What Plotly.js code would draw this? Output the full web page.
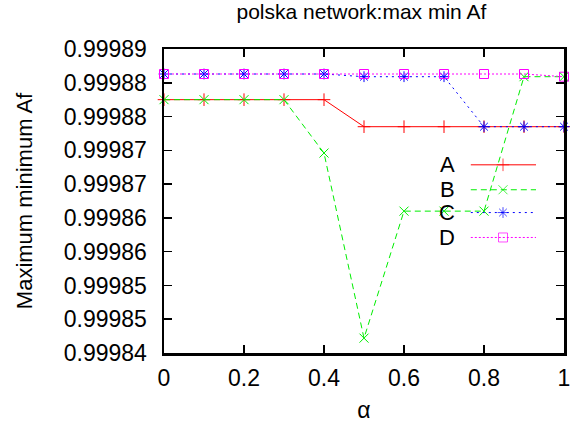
<!DOCTYPE html>
<html>
<head>
<meta charset="utf-8">
<script src="https://cdn.plot.ly/plotly-3.0.1.min.js"></script>
<style>
  html, body { margin: 0; padding: 0; background: #fff; }
  #chart { width: 570px; height: 432px; }
</style>
</head>
<body>
<div id="chart"></div>
<script>
// alpha values on the x axis
const alpha = [0, 0.1, 0.2, 0.3, 0.4, 0.5, 0.6, 0.7, 0.8, 0.9, 1.0];

// maximum minimum Af for each method
const seriesA = [0.9998775, 0.9998775, 0.9998775, 0.9998775, 0.9998775, 0.9998735, 0.9998735, 0.9998735, 0.9998735, 0.9998735, 0.9998735];
const seriesB = [0.9998775, 0.9998775, 0.9998775, 0.9998775, 0.9998696, 0.9998422, 0.9998610, 0.9998610, 0.9998610, 0.9998809, 0.9998809];
const seriesC = [0.9998813, 0.9998813, 0.9998813, 0.9998813, 0.9998813, 0.9998809, 0.9998809, 0.9998809, 0.9998735, 0.9998735, 0.9998735];
const seriesD = [0.9998813, 0.9998813, 0.9998813, 0.9998813, 0.9998813, 0.9998813, 0.9998813, 0.9998813, 0.9998813, 0.9998813, 0.9998809];

const seriesNames = ["A", "B", "C", "D"];

// axis ticks
const xTickVals = [0, 0.2, 0.4, 0.6, 0.8, 1];
const xTickText = ["0", "0.2", "0.4", "0.6", "0.8", "1"];
const yTickVals = [0.99984, 0.999845, 0.99985, 0.999855, 0.99986, 0.999865, 0.99987, 0.999875, 0.99988, 0.999885];
const yTickText = ["0.99984", "0.99985", "0.99985", "0.99986", "0.99986", "0.99987", "0.99987", "0.99988", "0.99988", "0.99989"];

const FONT = "Liberation Sans, Arial, sans-serif";

const styles = [
  { color: "#ff0000", dash: "solid",     symbol: "cross-thin-open" },
  { color: "#00ee00", dash: "6px,4px",   symbol: "x-thin-open" },
  { color: "#0000ff", dash: "2px,4px",   symbol: "asterisk-open" },
  { color: "#ff00ff", dash: "2px,2px",   symbol: "square-open" }
];
const allSeries = [seriesA, seriesB, seriesC, seriesD];

const traces = allSeries.map((ys, i) => ({
  x: alpha, y: ys, type: "scatter", mode: "lines+markers",
  name: seriesNames[i], showlegend: false, cliponaxis: false,
  line: { color: styles[i].color, width: 1, dash: styles[i].dash },
  marker: { symbol: styles[i].symbol, size: 9, color: styles[i].color,
            line: { color: styles[i].color, width: 1 } }
}));

// key drawn inside the plot area on an overlay axis spanning [0,1]
const keyX = [0.767, 0.8475, 0.93];
const keyRows = [0.619, 0.537, 0.462, 0.380];
const keyTextX = 0.73;

seriesNames.forEach((nm, i) => {
  traces.push({
    x: keyX, y: [keyRows[i], keyRows[i], keyRows[i]],
    xaxis: "x2", yaxis: "y2", type: "scatter", mode: "lines+markers",
    showlegend: false, hoverinfo: "skip",
    line: { color: styles[i].color, width: 1, dash: styles[i].dash },
    marker: { symbol: styles[i].symbol, size: [0, 9, 0], color: styles[i].color,
              line: { color: styles[i].color, width: 1 } }
  });
});

const annotations = seriesNames.map((nm, i) => ({
  xref: "x2", yref: "y2", x: keyTextX, y: keyRows[i],
  xanchor: "right", yanchor: "middle", text: nm, showarrow: false,
  font: { family: FONT, size: 22, color: "#000" }, borderpad: 0
}));

const axisCommon = {
  showgrid: false, zeroline: false, showline: true, linecolor: "#000", linewidth: 2.5,
  mirror: "ticks", ticks: "inside", ticklen: 8, tickwidth: 1.5, tickcolor: "#000",
  tickfont: { family: FONT, size: 23, color: "#000" }, ticklabeloverflow: "allow"
};

const layout = {
  width: 570, height: 432,
  margin: { l: 164, r: 6, t: 49, b: 79 },
  paper_bgcolor: "#fff", plot_bgcolor: "#fff",
  showlegend: false,
  title: { text: "polska network:max min Af", x: 0.634, xanchor: "center", y: 0.99, yanchor: "top",
           font: { family: FONT, size: 21, color: "#000" } },
  xaxis: Object.assign({}, axisCommon, {
    range: [0, 1], tickmode: "array", tickvals: xTickVals, ticktext: xTickText,
    ticklabelstandoff: 3,
    title: { text: "α", font: { family: FONT, size: 23, color: "#000" }, standoff: 12 }
  }),
  yaxis: Object.assign({}, axisCommon, {
    range: [0.99984, 0.999885], tickmode: "array", tickvals: yTickVals, ticktext: yTickText,
    ticklabelstandoff: 10,
    title: { text: "Maximum minimum Af", font: { family: FONT, size: 22, color: "#000" }, standoff: 25 }
  }),
  xaxis2: { overlaying: "x", range: [0, 1], visible: false, fixedrange: true },
  yaxis2: { overlaying: "y", range: [0, 1], visible: false, fixedrange: true },
  annotations: annotations
};

Plotly.newPlot("chart", traces, layout, { displayModeBar: false, staticPlot: true });
</script>
</body>
</html>
